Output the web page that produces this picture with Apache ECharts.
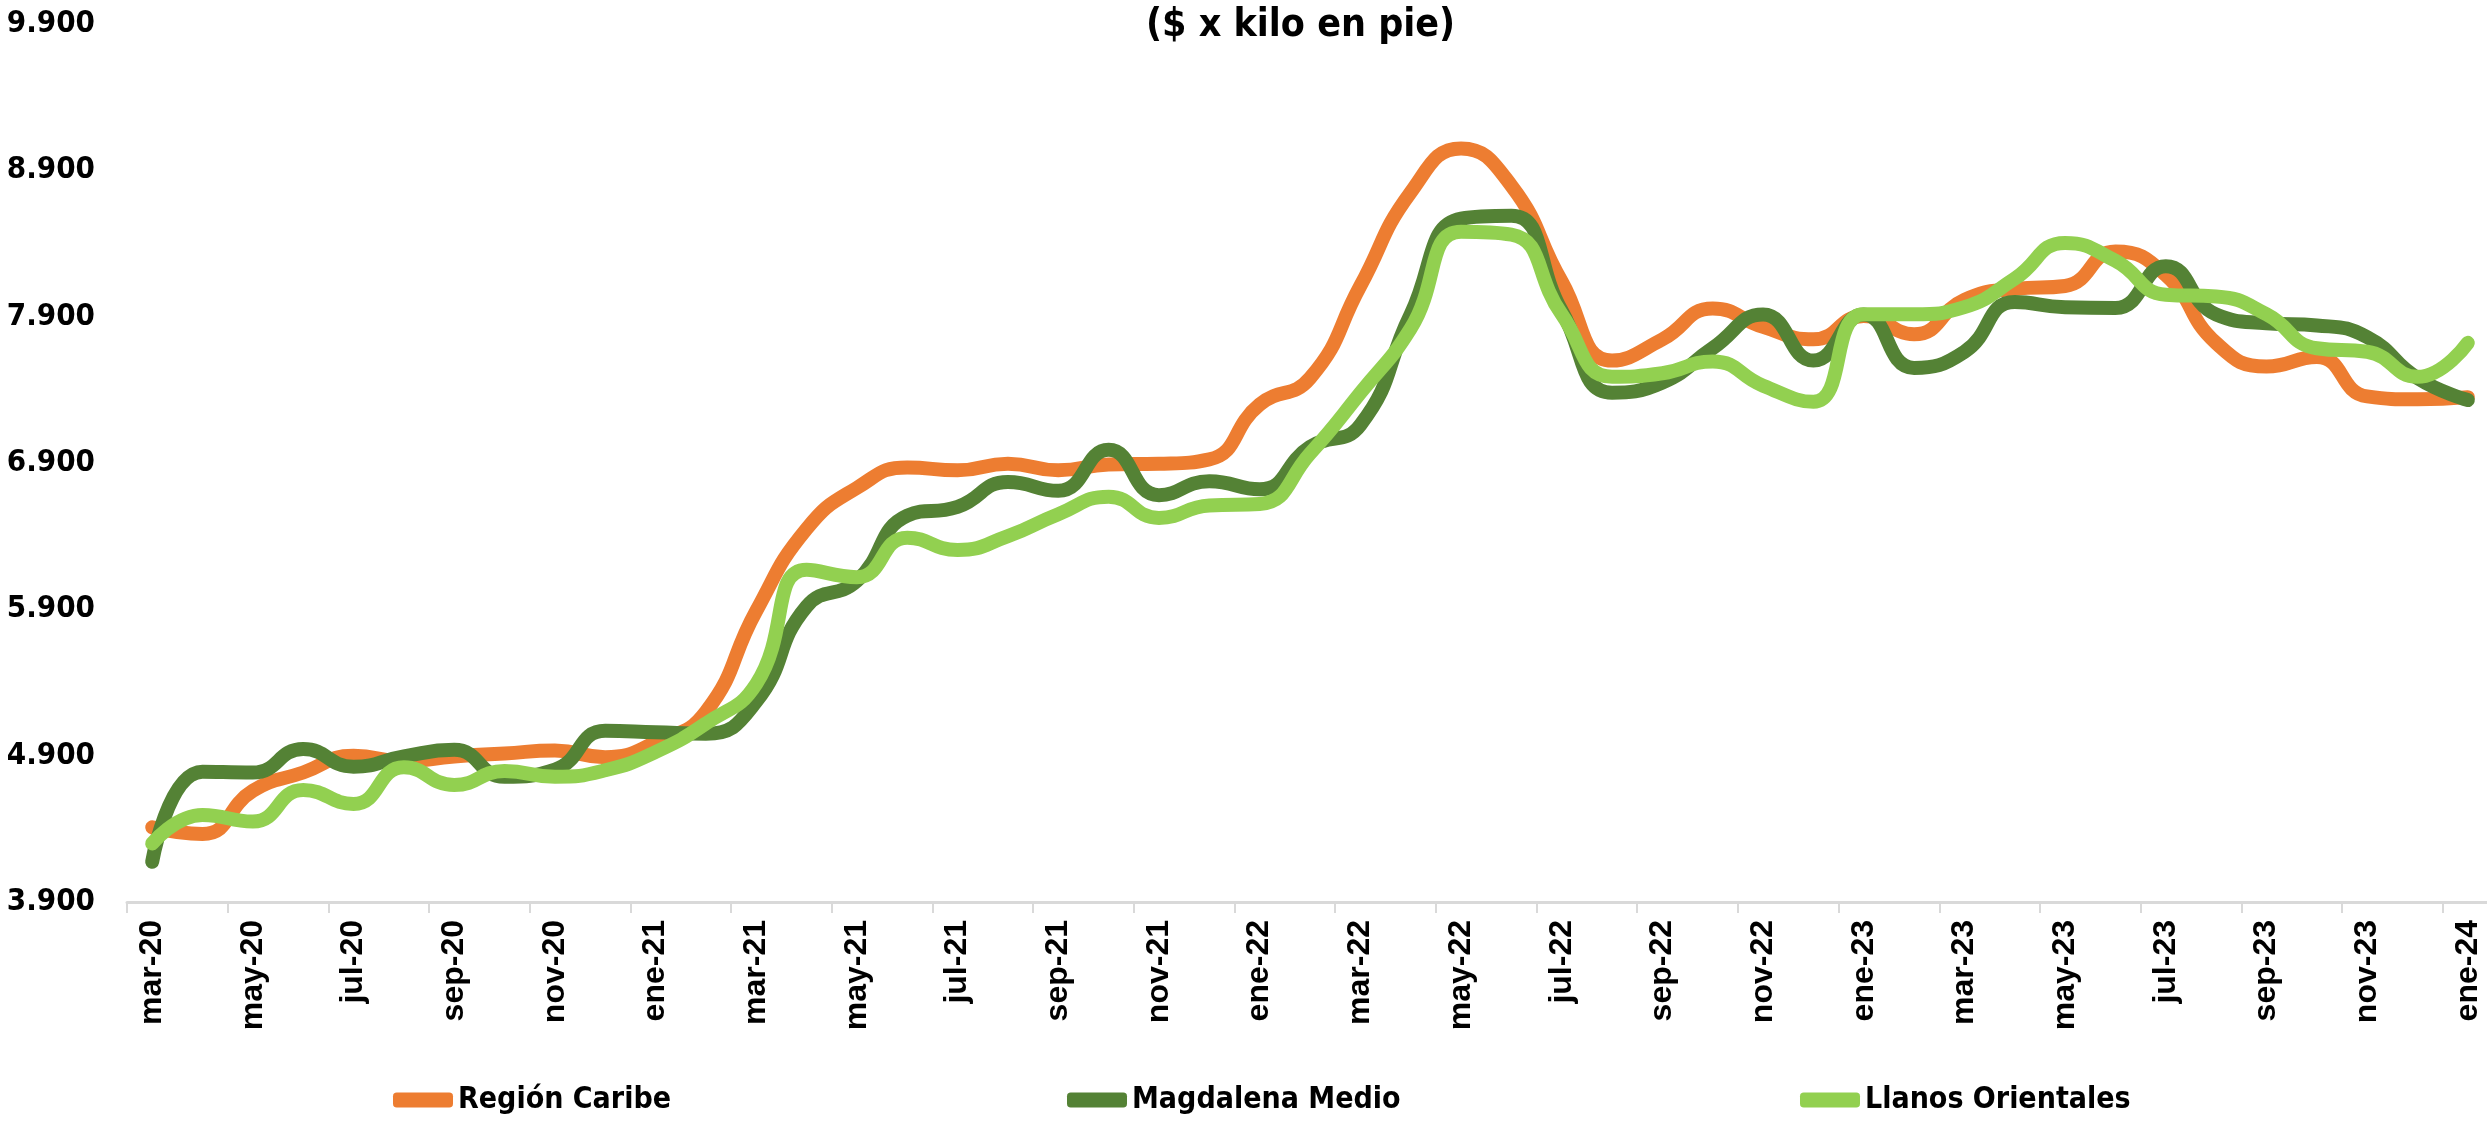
<!DOCTYPE html>
<html>
<head>
<meta charset="utf-8">
<script src="https://cdn.jsdelivr.net/npm/echarts@6/dist/echarts.min.js"></script>
<style>
  html, body { margin: 0; padding: 0; background: #ffffff; }
  #chart { width: 2487px; height: 1121px; }
</style>
</head>
<body>
<div id="chart"></div>
<script>
const categories = ['mar-20','abr-20','may-20','jun-20','jul-20','ago-20','sep-20','oct-20','nov-20','dic-20',
  'ene-21','feb-21','mar-21','abr-21','may-21','jun-21','jul-21','ago-21','sep-21','oct-21','nov-21','dic-21',
  'ene-22','feb-22','mar-22','abr-22','may-22','jun-22','jul-22','ago-22','sep-22','oct-22','nov-22','dic-22',
  'ene-23','feb-23','mar-23','abr-23','may-23','jun-23','jul-23','ago-23','sep-23','oct-23','nov-23','dic-23',
  'ene-24'];

const regionCaribe = [4410,4365,4660,4785,4900,4860,4895,4915,4935,4890,
  4990,5200,5890,6450,6730,6870,6850,6895,6850,6890,6895,6925,
  7300,7480,8110,8750,9050,8795,8140,7600,7745,7955,7830,7745,
  7905,7780,8015,8090,8110,8345,8185,7720,7560,7625,7355,7335,
  7350];

const magdalenaMedio = [4175,4790,4785,4945,4825,4895,4940,4756,4805,5070,
  5060,5050,5270,5920,6095,6540,6600,6770,6710,6990,6680,6775,
  6720,7010,7160,7916,8570,8590,7940,7380,7450,7685,7915,7600,
  7915,7550,7660,8000,7965,7960,8245,7915,7855,7840,7760,7480,
  7330];

const llanosOrientales = [4300,4495,4450,4665,4570,4820,4700,4795,4756,4800,
  4925,5120,5390,6170,6120,6390,6306,6400,6550,6670,6525,6610,
  6620,6964,7379,7819,8480,8460,7916,7489,7513,7594,7428,7318,
  7916,7916,7965,8160,8404,8282,8050,8038,7916,7684,7660,7489,
  7721];

const seriesNames = ['Región Caribe', 'Magdalena Medio', 'Llanos Orientales'];
const seriesColors = ['#ED7D31', '#548235', '#92D050'];
const yTickLabels = [3900, 4900, 5900, 6900, 7900, 8900, 9900];
const titleText = '($ x kilo en pie)';

const NARROW = "'Liberation Sans Narrow', 'Arial Narrow', 'DejaVu Sans Condensed', 'Roboto Condensed', sans-serif";
const WIDE = "'Liberation Sans', Arial, sans-serif";

function fmt(v) {
  return String(v).replace(/\B(?=(\d{3})+(?!\d))/g, '.');
}

const chart = echarts.init(document.getElementById('chart'), null, { renderer: 'canvas' });

const seriesData = [regionCaribe, magdalenaMedio, llanosOrientales];
const legendLefts = [393, 1067, 1800];

const option = {
  backgroundColor: '#ffffff',
  animation: false,
  title: {
    text: titleText,
    left: 1146,
    top: 6,
    padding: 0,
    textStyle: { fontFamily: NARROW, fontWeight: 'bold', fontSize: 39, color: '#000000' }
  },
  legend: seriesNames.map((n, i) => ({
    data: [n],
    left: legendLefts[i],
    top: 1085,
    padding: 0,
    icon: 'roundRect',
    itemWidth: 60,
    itemHeight: 15,
    textStyle: { fontFamily: NARROW, fontWeight: 'bold', fontSize: 30, color: '#000000' }
  })),
  grid: { left: 127, right: -6, top: 24, bottom: 219, containLabel: false, outerBoundsMode: 'none' },
  xAxis: {
    type: 'category',
    data: categories,
    boundaryGap: true,
    axisLine: { show: true, lineStyle: { color: '#D9D9D9', width: 3 } },
    axisTick: { show: true, interval: 1, length: 11, lineStyle: { color: '#D9D9D9', width: 2 } },
    axisLabel: {
      interval: 1,
      rotate: 90,
      margin: 18,
      fontFamily: WIDE,
      fontWeight: 'bold',
      fontSize: 32,
      color: '#000000'
    },
    splitLine: { show: false }
  },
  yAxis: {
    type: 'value',
    min: 3900,
    max: 9900,
    interval: 100,
    axisLine: { show: false },
    axisTick: { show: false },
    splitLine: { show: false },
    axisLabel: {
      margin: 32,
      fontFamily: NARROW,
      fontWeight: 'bold',
      fontSize: 31,
      color: '#000000',
      formatter: function (v) { return yTickLabels.indexOf(v) >= 0 ? fmt(v) : ''; }
    }
  },
  series: seriesNames.map((n, i) => ({
    name: n,
    type: 'line',
    data: seriesData[i],
    smooth: 0.5,
    symbol: 'none',
    clip: true,
    color: seriesColors[i],
    lineStyle: { color: seriesColors[i], width: 14, cap: 'round', join: 'round' },
    z: 2 + i
  }))
};

chart.setOption(option);
</script>
</body>
</html>
